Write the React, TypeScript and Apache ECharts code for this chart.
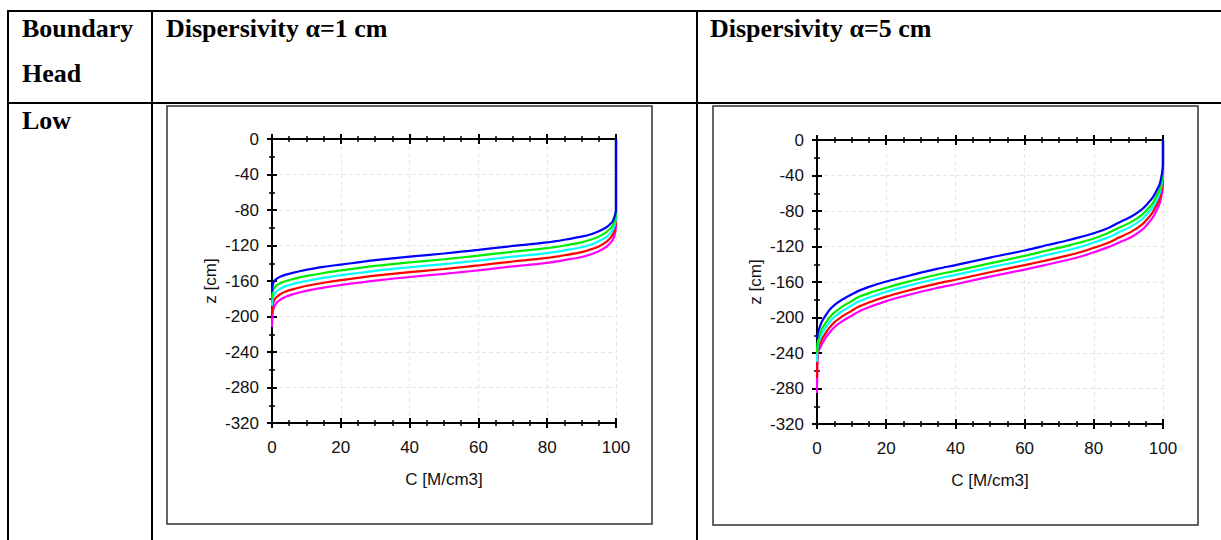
import React, { useEffect, useRef } from 'react';
import * as echarts from 'echarts';

// ---- data: C [M/cm3] sample positions and z [cm] values ----
// Dispersivity alpha = 1 cm
const C_A1 = [100, 100, 99.6, 99, 98, 97, 95, 93, 90, 85, 80, 74, 70, 60, 55, 50, 40, 30, 25, 20, 15, 11, 8, 6, 4, 2.5, 1.5, 0.8, 0.4, 0.15, 0];
const Z_A1_BLUE = [0, -80, -87, -93, -97, -100, -104, -107, -110, -113.5, -116.5, -119, -120.5, -125, -127, -129, -132.5, -136.5, -139, -141.5, -144, -146.7, -149, -150.8, -152.8, -154.9, -157, -159.2, -162, -166, -172];
const Z_A1_GREEN = [0, -85, -92, -98, -102, -105.5, -110, -113, -116.5, -120, -123, -125.5, -127, -131.5, -133.5, -135.5, -139, -143, -145.5, -148, -151, -153.7, -156, -157.9, -160, -162.3, -164.5, -167, -170, -174, -180];
const Z_A1_CYAN = [0, -89, -97, -103, -107.5, -111, -115, -118.5, -122, -125.5, -128.5, -131, -132.5, -137, -139, -141, -144.5, -148.5, -151, -153.5, -156.5, -159.2, -161.6, -163.5, -165.8, -168.4, -171, -174, -177, -181, -188];
const Z_A1_RED = [0, -93, -102, -108, -113, -116.5, -121, -124, -127.5, -131, -134, -136.5, -138, -142.5, -144.5, -146.5, -150, -154, -156.5, -159, -162, -164.8, -167.3, -169.4, -171.8, -174.6, -177.5, -180.8, -184.5, -189, -197];
const Z_A1_MAGENTA = [0, -99, -108, -114, -118.5, -122, -126.5, -129.5, -133, -136.5, -139.5, -142, -143.5, -148, -150, -152, -155.5, -159.5, -162, -164.5, -167.5, -170.3, -172.9, -175.1, -177.7, -180.8, -184, -187.8, -192, -198, -212];

// Dispersivity alpha = 5 cm
const C_A5 = [100, 100, 99.7, 99, 98, 97, 95.5, 94, 91, 87, 84, 80, 76, 72, 67, 60, 50, 40, 35, 30, 25, 20, 15, 12, 10, 7, 5, 3.5, 2.5, 1.5, 0.8, 0.3, 0.1, 0];
const Z_A5_BLUE = [0, -28, -38, -50, -58, -65, -72, -78, -86, -93.5, -99.5, -105, -109.5, -113.5, -118, -124.5, -132.5, -141, -145, -149.5, -154.5, -159.5, -165.5, -170, -174, -180.5, -186, -192, -197.5, -204, -210.5, -217, -221, -224];
const Z_A5_GREEN = [0, -33, -44, -56, -64, -71.5, -78, -84, -92, -99.5, -105, -111, -115.5, -119.5, -124, -130.5, -139, -147.5, -151.5, -156, -161, -166.5, -172.5, -177, -181.5, -188.5, -194.5, -200.5, -206, -212.5, -219, -226, -231, -240];
const Z_A5_CYAN = [0, -37, -48, -60.5, -69, -76, -83, -89, -97, -104.5, -110, -115.5, -120.5, -124.5, -129, -135.5, -143.5, -152, -156, -160.5, -165.5, -171, -177.5, -182, -186.5, -193.5, -199.5, -206, -211.5, -218, -224.5, -231, -237, -250];
const Z_A5_RED = [0, -42, -53, -66, -74.5, -81.5, -89, -95, -103, -110.5, -116, -121.5, -126.5, -130.5, -135, -141, -149, -157.5, -161.5, -166, -171, -176.5, -183, -188, -192.5, -199.5, -205.5, -212, -217.5, -224, -230, -235, -245, -268];
const Z_A5_MAGENTA = [0, -50, -60, -72, -80.5, -87.5, -95, -101, -109, -116, -121, -126.5, -131.5, -135.5, -140, -146, -154, -162.5, -166.5, -171, -176, -181.5, -188.5, -193.5, -198, -205, -211, -217.5, -223, -229.5, -235, -239, -252, -285];

const HEADER_LEFT = ['Boundary', 'Head'];
const ROW_LABEL = 'Low';
const TITLES = ['Dispersivity α=1 cm', 'Dispersivity α=5 cm'];
const X_NAME = 'C [M/cm3]';
const Y_NAME = 'z [cm]';

const COLORS = { blue: '#0000ff', green: '#00ee00', cyan: '#00ffff', red: '#ff0000', magenta: '#ff00ff' };

const SANS = "'Liberation Sans', Arial, sans-serif";
const SERIF = "'Liberation Serif', 'Times New Roman', serif";

function pairs(cs: number[], zs: number[]) {
  return cs.map((c, i) => [c, zs[i]]);
}

const tickStyle = { color: '#000', width: 2 };
const minorStyle = { color: '#000', width: 1.5 };
const labelStyle = { fontSize: 17, fontFamily: SANS, color: '#111' };

function xAxesFor(g: number) {
  const base: any = {
    gridIndex: g,
    type: 'value',
    min: 0,
    max: 100,
    interval: 20,
    axisLine: { show: true, onZero: false, lineStyle: { color: '#000', width: 2 } },
    minorTick: { show: true, splitNumber: 4, length: 3, lineStyle: minorStyle },
    splitLine: { show: false },
    axisLabel: { show: false },
  };
  return [
    {
      ...base,
      position: 'bottom',
      axisTick: { show: true, inside: false, length: 5, lineStyle: tickStyle },
      axisLabel: { show: true, ...labelStyle, margin: 16 },
      splitLine: { show: true, lineStyle: { color: '#e4e4e4', width: 1, type: [4, 3] } },
      name: X_NAME,
      nameLocation: 'middle',
      nameGap: 48,
      nameTextStyle: labelStyle,
    },
    { ...base, position: 'bottom', axisTick: { show: true, inside: true, length: 5, lineStyle: tickStyle } },
    { ...base, position: 'top', axisTick: { show: true, inside: false, length: 5, lineStyle: tickStyle } },
    { ...base, position: 'top', axisTick: { show: true, inside: true, length: 5, lineStyle: tickStyle } },
  ];
}

function yAxesFor(g: number) {
  const base: any = {
    gridIndex: g,
    type: 'value',
    min: -320,
    max: 0,
    interval: 40,
    position: 'left',
    axisLine: { show: true, onZero: false, lineStyle: { color: '#000', width: 2 } },
    minorTick: { show: true, splitNumber: 2, length: 3, lineStyle: minorStyle },
    splitLine: { show: false },
    axisLabel: { show: false },
  };
  return [
    {
      ...base,
      axisTick: { show: true, inside: false, length: 5, lineStyle: tickStyle },
      axisLabel: { show: true, ...labelStyle, margin: 13 },
      splitLine: { show: true, lineStyle: { color: '#e4e4e4', width: 1, type: [4, 3] } },
      name: Y_NAME,
      nameLocation: 'middle',
      nameRotate: 90,
      nameGap: 53,
      nameTextStyle: labelStyle,
    },
    { ...base, axisTick: { show: true, inside: true, length: 5, lineStyle: tickStyle } },
  ];
}

function seriesFor(xi: number, yi: number, cs: number[], sets: [string, number[]][]) {
  return sets.map(([color, zs]) => ({
    type: 'line',
    xAxisIndex: xi,
    yAxisIndex: yi,
    data: pairs(cs, zs),
    showSymbol: false,
    symbol: 'none',
    smooth: 0.3,
    lineStyle: { color, width: 2.2 },
    itemStyle: { color },
    z: 3,
  }));
}

function line(x1: number, y1: number, x2: number, y2: number, w = 2, color = '#000') {
  return { type: 'line', shape: { x1, y1, x2, y2 }, style: { stroke: color, lineWidth: w }, silent: true };
}

function headText(text: string, x: number, y: number) {
  return {
    type: 'text',
    x,
    y,
    style: { text, fill: '#000', font: `bold 26px ${SERIF}`, textAlign: 'left', textVerticalAlign: 'middle' },
    silent: true,
  };
}

export default function App() {
  const ref = useRef<HTMLDivElement>(null);
  useEffect(() => {
    if (!ref.current) return;
    const chart = echarts.init(ref.current, undefined, { renderer: 'svg' });
    const option: any = {
      animation: false,
      backgroundColor: '#fff',
      grid: [
        { left: 272, top: 139, width: 344, height: 284 },
        { left: 817, top: 140, width: 346, height: 284 },
      ],
      xAxis: [...xAxesFor(0), ...xAxesFor(1)],
      yAxis: [...yAxesFor(0), ...yAxesFor(1)],
      series: [
        ...seriesFor(0, 0, C_A1, [
          [COLORS.magenta, Z_A1_MAGENTA],
          [COLORS.red, Z_A1_RED],
          [COLORS.cyan, Z_A1_CYAN],
          [COLORS.green, Z_A1_GREEN],
          [COLORS.blue, Z_A1_BLUE],
        ]),
        ...seriesFor(4, 2, C_A5, [
          [COLORS.magenta, Z_A5_MAGENTA],
          [COLORS.red, Z_A5_RED],
          [COLORS.cyan, Z_A5_CYAN],
          [COLORS.green, Z_A5_GREEN],
          [COLORS.blue, Z_A5_BLUE],
        ]),
      ],
      graphic: [
        // table rules
        line(7, 11, 1221, 11),
        line(8, 10, 8, 540),
        line(152, 10, 152, 540),
        line(697, 10, 697, 540),
        line(7, 103, 1221, 103),
        // chart frames
        { type: 'rect', shape: { x: 167, y: 106, width: 485, height: 418 }, style: { fill: 'none', stroke: '#333', lineWidth: 1.5 }, silent: true },
        { type: 'rect', shape: { x: 713, y: 106, width: 485, height: 419 }, style: { fill: 'none', stroke: '#333', lineWidth: 1.5 }, silent: true },
        // header texts
        headText(HEADER_LEFT[0], 22, 28),
        headText(HEADER_LEFT[1], 22, 73),
        headText(ROW_LABEL, 22, 120),
        headText(TITLES[0], 166, 28),
        headText(TITLES[1], 710, 28),
      ],
    };
    chart.setOption(option);
    return () => chart.dispose();
  }, []);
  return <div ref={ref} style={{ position: 'absolute', left: 0, top: 0, width: 1221, height: 540 }} />;
}
